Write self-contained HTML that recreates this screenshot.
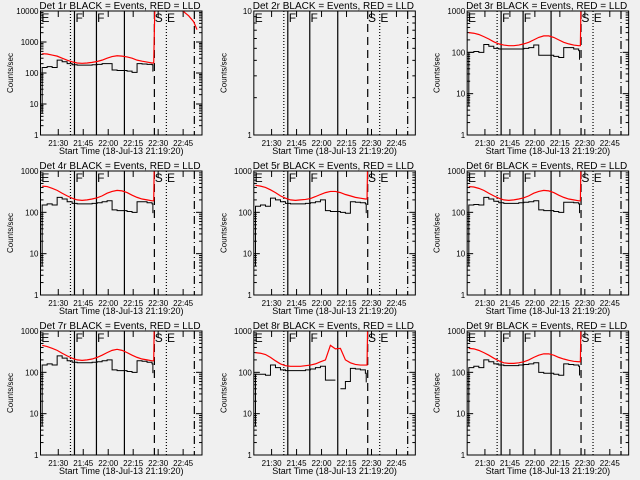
<!DOCTYPE html>
<html><head><meta charset="utf-8"><style>
html,body{margin:0;padding:0;background:#f0f0f0;}
svg{display:block;font-family:"Liberation Sans",sans-serif;}
</style></head><body>
<svg id="c" width="640" height="480" viewBox="0 0 640 480"></svg>
<script>
const times=[1,4,7,10,13,16,19,22,25,28,31,34,37,40,43,46,49,52,55,58,61,64,67];
const detNames=["Det 1r","Det 2r","Det 3r","Det 4r","Det 5r","Det 6r","Det 7r","Det 8r","Det 9r"];
const yMaxDecades=[4,1,3,3,3,3,3,3,3];
const xTickLabels=["21:30","21:45","22:00","22:15","22:30","22:45"];
const xTickTimes=[10.67,25.67,40.67,55.67,70.67,85.67];
const red1=[420,410,380,350,300,260,230,210,205,210,220,235,260,300,340,360,350,330,300,260,240,225,210];
const black1=[150,160,150,260,230,200,185,180,180,180,185,190,200,200,125,120,120,115,105,200,195,190,185];
const red1Tail=[[86,9500],[89,7000],[92,4500],[94,2500]];
const red3=[300,290,270,240,210,180,160,150,145,145,150,160,175,200,230,250,250,230,200,175,160,150,145];
const black3=[100,105,100,155,140,125,120,120,120,120,120,125,130,150,85,85,85,80,75,130,130,120,110];
const red4=[430,420,380,340,290,250,220,200,195,200,210,225,250,290,320,340,330,300,260,230,210,200,190];
const black4=[150,160,150,230,210,180,165,160,160,160,165,170,180,190,115,110,110,105,100,180,180,170,160];
const red5=[450,430,400,350,300,250,220,200,195,200,205,215,240,270,300,320,320,300,270,250,230,220,210];
const black5=[140,150,140,220,200,180,165,160,160,160,165,170,180,200,110,105,105,100,95,180,175,170,160];
const red6=[420,410,380,340,290,250,220,200,195,200,210,225,250,290,320,340,330,300,260,230,210,200,190];
const black6=[150,155,150,230,210,185,170,165,165,165,170,175,180,190,115,110,110,105,100,175,175,170,160];
const red7=[450,420,380,340,290,250,220,200,195,200,210,230,260,300,340,360,340,300,260,230,210,200,190];
const black7=[150,160,150,250,220,190,175,170,170,170,175,180,190,200,115,110,110,105,100,190,185,175,160];
const red8=[300,290,270,230,190,160,145,140,140,140,145,150,160,180,200,450,370,380,200,170,155,150,150];
const black8=[90,90,85,150,130,115,110,110,110,110,115,120,130,140,65,65,null,40,60,125,120,115,95];
const red9=[380,370,340,300,260,220,190,170,165,165,170,180,200,230,260,280,280,260,230,210,195,185,180];
const black9=[130,140,130,200,180,160,150,145,145,145,150,155,160,170,100,95,95,90,85,160,155,150,140];
const reds=[red1,null,red3,red4,red5,red6,red7,red8,red9];
const blacks=[black1,null,black3,black4,black5,black6,black7,black8,black9];
const markerTimes=[18,20.4,33.6,50.4,68.4,75.6,92.4];
const markerStyles=["1,2","","","","8,5","1,2","8,3,1,3"];
const letterTimes=[0.5,21,34,68.6,76];
const letters=["E","F","F","S","E"];
const jumpTime=68,endTime=97;

const svg=document.getElementById('c');
const NS="http://www.w3.org/2000/svg";
function mk(tag,attrs,parent){const e=document.createElementNS(NS,tag);for(const k in attrs)e.setAttribute(k,attrs[k]);(parent||svg).appendChild(e);return e;}

for(let p=0;p<9;p++){
  const col=p%3,row=Math.floor(p/3);
  const ox=col*213.33,oy=row*160;
  const L=ox+40.5,R=ox+202,T=oy+11,B=oy+135;
  const dec=yMaxDecades[p];
  const xs=t=>L+t*(R-L)/endTime;
  const ys=v=>B-Math.log10(v)/dec*(B-T);
  const g=mk('g',{});
  
  
  const cp=mk('clipPath',{id:'cp'+p},g);mk('rect',{x:L,y:T,width:R-L,height:B-T},cp);
  const title=mk('text',{x:ox+120,y:oy+9,'font-size':10,'text-anchor':'middle',fill:'#000'},g);
  title.textContent=detNames[p]+" BLACK = Events, RED = LLD";
  
  
  const yl=mk('text',{x:0,y:0,'font-size':8,'text-anchor':'middle',transform:`translate(${ox+13},${(T+B)/2}) rotate(-90)`},g);
  yl.textContent="Counts/sec";
  
  
  const xl=mk('text',{x:(L+R)/2,y:oy+154,'font-size':9,'text-anchor':'middle'},g);
  xl.textContent="Start Time (18-Jul-13 21:19:20)";
  
  
  for(let d=0;d<=dec;d++){
    const y=ys(Math.pow(10,d));
    mk('line',{x1:L,x2:L+6,y1:y,y2:y,stroke:'#000'},g);
    mk('line',{x1:R,x2:R-6,y1:y,y2:y,stroke:'#000'},g);
    const tl=mk('text',{x:L-2,y:y+3,'font-size':8,'text-anchor':'end'},g);
    tl.textContent=String(Math.pow(10,d));
    
    
    if(d<dec)for(let m=2;m<10;m++){
      const yy=ys(m*Math.pow(10,d));
      mk('line',{x1:L,x2:L+3,y1:yy,y2:yy,stroke:'#000'},g);
      mk('line',{x1:R,x2:R-3,y1:yy,y2:yy,stroke:'#000'},g);
    }
  }
  for(let i=0;i<xTickTimes.length;i++){
    const x=xs(xTickTimes[i]);
    mk('line',{x1:x,x2:x,y1:B,y2:B-6,stroke:'#000'},g);
    mk('line',{x1:x,x2:x,y1:T,y2:T+6,stroke:'#000'},g);
    const tl=mk('text',{x:x,y:oy+146,'font-size':8,'text-anchor':'middle'},g);
    tl.textContent=xTickLabels[i];
    
    
  }
  for(let i=0;i<markerTimes.length;i++){
    const x=xs(markerTimes[i]);
    const a={x1:x,x2:x,y1:T,y2:B,stroke:'#000','stroke-width':1.2};
    if(markerStyles[i])a['stroke-dasharray']=markerStyles[i];
    const ln=mk('line',a,g);
    
    
  }
  for(let i=0;i<letters.length;i++){
    const tx=mk('text',{x:xs(letterTimes[i]),y:T+11,'font-size':12,fill:'#000'},g);
    tx.textContent=letters[i];
    
    
  }
  const cg=mk('g',{'clip-path':`url(#cp${p})`},g);
  const bl=blacks[p],rd=reds[p];
  if(bl){
    let d='',pen=false;
    d+=`M${xs(times[0])},${ys(5)}`;pen=true;
    for(let i=0;i<times.length;i++){
      const v=bl[i];const tEnd=i<times.length-1?times[i+1]:jumpTime-0.5;
      if(v==null){pen=false;continue;}
      d+=(pen?'L':'M')+`${xs(times[i])},${ys(v)}L${xs(tEnd)},${ys(v)}`;pen=true;
    }
    d+=`L${xs(jumpTime-0.5)},${ys(bl[bl.length-1]*0.6)}`;
    const pth=mk('path',{d:d,fill:'none',stroke:'#000','stroke-width':1},cg);
    
    
  }
  if(rd){
    let d='';
    for(let i=0;i<times.length;i++){
      d+=(i?'L':'M')+`${xs(times[i])},${ys(rd[i])}`;
    }
    d+=`L${xs(jumpTime)},${ys(rd[rd.length-1])}L${xs(jumpTime+1)},${ys(1e5)}`;
    if(p===0){d+=`L${xs(red1Tail[0][0]-1)},${ys(1e5)}`;for(const q of red1Tail)d+=`L${xs(q[0])},${ys(q[1])}`;}
    const pth=mk('path',{d:d,fill:'none',stroke:'#ff0000','stroke-width':1.2},cg);
    
    
  }
  const fr=mk('rect',{x:L,y:T,width:R-L,height:B-T,fill:'none',stroke:'#000','stroke-width':1},g);
  
  
}
</script>
</body></html>
